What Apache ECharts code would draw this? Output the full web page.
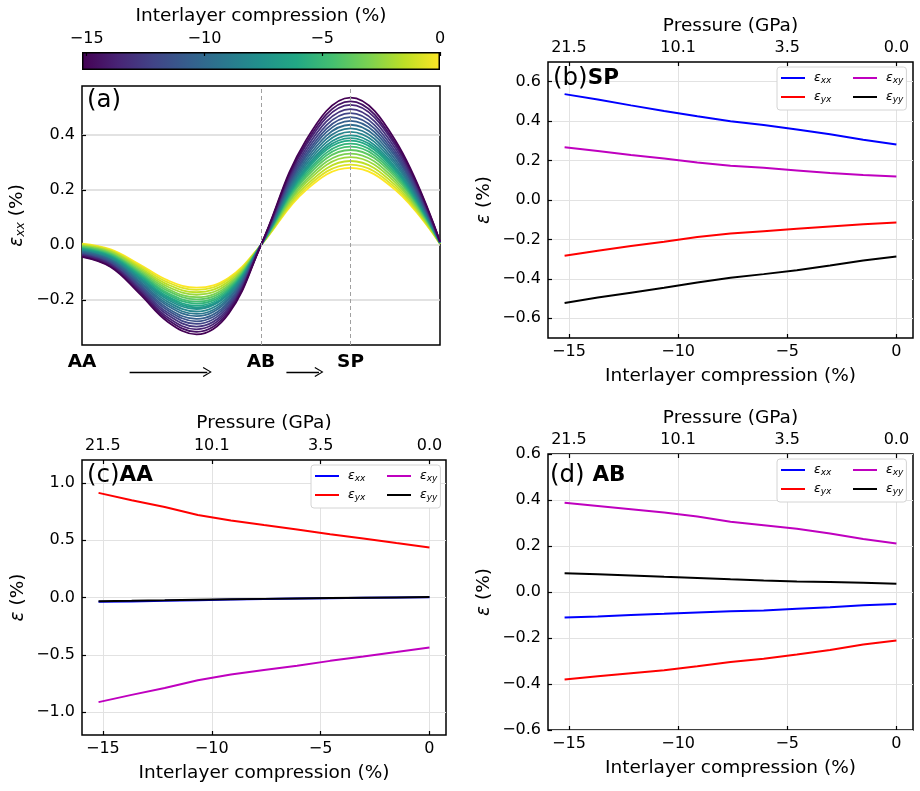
<!DOCTYPE html>
<html>
<head>
<meta charset="utf-8">
<title>Strain vs interlayer compression</title>
<script src="https://cdn.jsdelivr.net/npm/echarts@6.0.0/dist/echarts.min.js"></script>
<style>
  html, body { margin: 0; padding: 0; background: #fff; }
  #chart { width: 920px; height: 791px; }
</style>
</head>
<body>
<div id="chart"></div>
<script>
const FONT = 'DejaVu Sans'

// compression level of each curve in (a), most compressed first
const compression = [-15.2, -14.44, -13.68, -12.92, -12.16, -11.4, -10.64, -9.88, -9.12, -8.36, -7.6,
  -6.84, -6.08, -5.32, -4.56, -3.8, -3.04, -2.28, -1.52, -0.76, 0]

// position along the AA -> AB -> SP path (0 = AA, 0.5 = AB, 0.75 = SP)
const pathPos = [0, 0.08, 0.16, 0.24, 0.32, 0.41, 0.5, 0.625, 0.75, 0.875, 1]

// εxx (%) read at each path position, one value per compression level
const exxAt000 = [-0.043, -0.041, -0.038, -0.036, -0.034, -0.031, -0.029, -0.026, -0.024, -0.022, -0.019, -0.017, -0.014, -0.012, -0.010, -0.007, -0.005, -0.002, 0.000, 0.003, 0.005]
const exxAt008 = [-0.080, -0.077, -0.073, -0.070, -0.067, -0.063, -0.060, -0.056, -0.054, -0.051, -0.047, -0.044, -0.041, -0.038, -0.035, -0.032, -0.029, -0.025, -0.022, -0.019, -0.016]
const exxAt016 = [-0.176, -0.170, -0.164, -0.159, -0.153, -0.147, -0.142, -0.136, -0.131, -0.125, -0.120, -0.116, -0.111, -0.106, -0.102, -0.097, -0.092, -0.086, -0.081, -0.075, -0.070]
const exxAt024 = [-0.280, -0.272, -0.264, -0.255, -0.247, -0.238, -0.231, -0.222, -0.215, -0.207, -0.199, -0.193, -0.188, -0.181, -0.175, -0.167, -0.160, -0.152, -0.144, -0.136, -0.129]
const exxAt032 = [-0.325, -0.316, -0.307, -0.297, -0.287, -0.278, -0.269, -0.259, -0.251, -0.242, -0.233, -0.227, -0.221, -0.213, -0.206, -0.198, -0.190, -0.181, -0.172, -0.163, -0.155]
const exxAt041 = [-0.249, -0.242, -0.235, -0.228, -0.220, -0.213, -0.206, -0.198, -0.192, -0.185, -0.178, -0.174, -0.169, -0.163, -0.158, -0.152, -0.146, -0.139, -0.132, -0.125, -0.119]
const exxAt050 = [0, 0, 0, 0, 0, 0, 0, 0, 0, 0, 0, 0, 0, 0, 0, 0, 0, 0, 0, 0, 0]
const exxAt0625 = [0.380, 0.370, 0.361, 0.350, 0.339, 0.329, 0.320, 0.310, 0.300, 0.291, 0.282, 0.275, 0.269, 0.261, 0.253, 0.245, 0.235, 0.226, 0.216, 0.207, 0.199]
const exxAt075 = [0.537, 0.523, 0.510, 0.495, 0.480, 0.466, 0.452, 0.438, 0.425, 0.412, 0.399, 0.389, 0.380, 0.369, 0.358, 0.346, 0.333, 0.320, 0.306, 0.293, 0.281]
const exxAt0875 = [0.382, 0.372, 0.363, 0.352, 0.341, 0.331, 0.322, 0.312, 0.302, 0.293, 0.284, 0.277, 0.271, 0.263, 0.255, 0.247, 0.237, 0.228, 0.218, 0.209, 0.201]
const exxAt100 = [0.012, 0.012, 0.011, 0.011, 0.011, 0.010, 0.010, 0.010, 0.009, 0.009, 0.008, 0.008, 0.008, 0.007, 0.007, 0.007, 0.006, 0.006, 0.005, 0.005, 0.004]
const pathProfiles = [exxAt000, exxAt008, exxAt016, exxAt024, exxAt032, exxAt041, exxAt050, exxAt0625, exxAt075, exxAt0875, exxAt100]

const landmarkPos = [0, 0.5, 0.75]
const landmarkNames = ['AA', 'AB', 'SP']
// arrows drawn under (a), start and end on the path axis
const arrowSpans = [[0.133, 0.35], [0.571, 0.662]]

// panels (b)-(d): compression where the strain was read
const sampleComp = [-15.2, -13.68, -12.16, -10.64, -9.12, -7.6, -6.08, -4.56, -3.04, -1.52, 0]
const compTicks = [-15, -10, -5, 0]
const pressureTicks = [-15, -10, -5, 0]
const pressureLabels = ['21.5', '10.1', '3.5', '0.0']

// (b) SP
const spExx = [0.537, 0.510, 0.480, 0.452, 0.425, 0.399, 0.380, 0.358, 0.333, 0.306, 0.281]
const spEyx = [-0.283, -0.257, -0.233, -0.212, -0.188, -0.170, -0.158, -0.146, -0.134, -0.123, -0.114]
const spExy = [0.268, 0.248, 0.228, 0.210, 0.190, 0.174, 0.163, 0.150, 0.137, 0.127, 0.119]
const spEyy = [-0.522, -0.495, -0.470, -0.445, -0.418, -0.394, -0.376, -0.356, -0.332, -0.307, -0.286]
// (c) AA
const aaExx = [-0.038, -0.034, -0.029, -0.023, -0.018, -0.013, -0.009, -0.006, -0.003, 0.000, 0.003]
const aaEyx = [0.913, 0.848, 0.790, 0.720, 0.672, 0.632, 0.594, 0.552, 0.515, 0.475, 0.436]
const aaExy = [-0.913, -0.850, -0.790, -0.722, -0.672, -0.633, -0.595, -0.553, -0.515, -0.476, -0.436]
const aaEyy = [-0.032, -0.029, -0.025, -0.020, -0.016, -0.012, -0.008, -0.005, -0.002, 0.001, 0.004]
// (d) AB
const abExx = [-0.111, -0.106, -0.100, -0.095, -0.089, -0.084, -0.080, -0.073, -0.066, -0.058, -0.052]
const abEyx = [-0.380, -0.366, -0.353, -0.340, -0.323, -0.304, -0.290, -0.272, -0.252, -0.228, -0.211]
const abExy = [0.388, 0.374, 0.360, 0.346, 0.328, 0.305, 0.290, 0.275, 0.254, 0.230, 0.211]
const abEyy = [0.082, 0.077, 0.072, 0.066, 0.061, 0.055, 0.050, 0.046, 0.043, 0.040, 0.036]

const componentNames = ['exx', 'eyx', 'exy', 'eyy']
const componentColors = ['#0000ff', '#ff0000', '#bf00bf', '#000000']

const viridis = ['#440154', '#482475', '#414487', '#355f8d', '#2a788e', '#21918c',
  '#22a884', '#44bf70', '#7ad151', '#bddf26', '#fde725']

// helpers
const hexToRgb = h => [1, 3, 5].map(i => parseInt(h.slice(i, i + 2), 16))
const viridisAt = t => {
  const s = Math.min(Math.max(t, 0), 1) * (viridis.length - 1)
  const i = Math.min(Math.floor(s), viridis.length - 2)
  const f = s - i
  const a = hexToRgb(viridis[i])
  const b = hexToRgb(viridis[i + 1])
  return 'rgb(' + a.map((v, k) => Math.round(v + (b[k] - v) * f)).join(',') + ')'
}
const minus = s => s.replace('-', '\u2212')
const fmt1 = v => minus(v.toFixed(1))
const fmt0 = v => minus(String(Math.round(v)))

const tickStyle = { show: true, inside: true, length: 4, lineStyle: { color: '#000', width: 1.2 } }
const labelStyle = { color: '#000', fontFamily: FONT, fontSize: 16 }
const nameStyle = { color: '#000', fontFamily: FONT, fontSize: 18.5 }
const epsRich = {
  e: { fontFamily: FONT, fontSize: 18.5, fontStyle: 'italic', color: '#000' },
  s: { fontFamily: FONT, fontSize: 12.5, fontStyle: 'italic', color: '#000', padding: [7, 0, 0, 0] }
}
const frame = { show: true, borderColor: '#000', borderWidth: 1.5, backgroundColor: 'transparent', outerBoundsMode: 'none' }

// x axes of (b)-(d)
const compAxis = (gridIndex, nameGap) => ({
  type: 'value', gridIndex, min: -15.96, max: 0.76,
  name: 'Interlayer compression (%)', nameLocation: 'middle', nameGap, nameTextStyle: nameStyle,
  axisLine: { show: false, onZero: false },
  axisTick: { ...tickStyle, customValues: compTicks },
  axisLabel: { ...labelStyle, margin: 6, customValues: compTicks, formatter: fmt0 },
  splitLine: { show: true, lineStyle: { color: '#e2e2e2', width: 1 } }
})
const pressureAxis = (gridIndex, nameGap) => ({
  type: 'value', gridIndex, position: 'top', min: -15.96, max: 0.76,
  name: 'Pressure (GPa)', nameLocation: 'middle', nameGap, nameTextStyle: nameStyle,
  axisLine: { show: false, onZero: false },
  axisTick: { ...tickStyle, customValues: pressureTicks },
  axisLabel: { ...labelStyle, margin: 6, customValues: pressureTicks,
    formatter: v => pressureLabels[pressureTicks.indexOf(v)] },
  splitLine: { show: false }
})
const strainAxis = (gridIndex, min, max, ticks) => ({
  type: 'value', gridIndex, min, max,
  name: '{e|ε} (%)', nameLocation: 'middle', nameGap: 54,
  nameTextStyle: { ...nameStyle, rich: epsRich },
  axisLine: { show: false, onZero: false },
  axisTick: { ...tickStyle, customValues: ticks },
  axisLabel: { ...labelStyle, margin: 7, customValues: ticks, formatter: fmt1 },
  splitLine: { show: true, lineStyle: { color: '#e2e2e2', width: 1 } }
})

const legendRich = {
  e: { fontFamily: FONT, fontSize: 12.5, fontStyle: 'italic', color: '#000', padding: [0, 0, 0, 4] },
  s: { fontFamily: FONT, fontSize: 9, fontStyle: 'italic', color: '#000', padding: [5, 0, 0, 0] }
}
const legendPair = (left, top) => {
  const common = {
    orient: 'vertical', icon: 'rect', itemWidth: 24, itemHeight: 2, itemGap: 5.5,
    selectedMode: false, formatter: n => '{e|ε}{s|' + n.slice(1) + '}',
    textStyle: { lineHeight: 12, rich: legendRich }
  }
  return [
    { ...common, data: ['exx', 'eyx'], left, top, padding: [4.5, 75, 6, 4],
      backgroundColor: '#fff', borderColor: '#d4d4d4', borderWidth: 1, borderRadius: 3 },
    { ...common, data: ['exy', 'eyy'], left: left + 76, top: top + 4.5, padding: 0, z: 6 }
  ]
}

const panelTitle = (text, left, top) => ({
  text, left, top, padding: 0,
  textStyle: {
    fontFamily: FONT, fontSize: 24.5, fontWeight: 'normal', color: '#000',
    rich: {
      n: { fontFamily: FONT, fontSize: 24.5, color: '#000' },
      b: { fontFamily: FONT, fontSize: 21.5, fontWeight: 'bold', color: '#000' }
    }
  }
})

// series
const series = []

// colorbar
series.push({
  type: 'bar', xAxisIndex: 0, yAxisIndex: 0, data: [compression[0]], barWidth: '100%', silent: true,
  itemStyle: {
    color: new echarts.graphic.LinearGradient(0, 0, 1, 0,
      viridis.map((c, i) => ({ offset: i / (viridis.length - 1), color: c }))),
    borderColor: '#000', borderWidth: 1.5
  }
})

// (a) one curve per compression level, relaxed first so the compressed ones sit on top
for (let i = compression.length - 1; i >= 0; i--) {
  series.push({
    type: 'line', xAxisIndex: 1, yAxisIndex: 1, silent: true, symbol: 'none', smooth: 0.4,
    data: pathPos.map((x, k) => [x, pathProfiles[k][i]]),
    lineStyle: { width: 1.8, color: viridisAt((compression[i] - compression[0]) / (0 - compression[0])) }
  })
}
// dashed guides at AB and SP
series.push({
  type: 'line', xAxisIndex: 1, yAxisIndex: 1, data: [], silent: true,
  markLine: {
    silent: true, symbol: 'none', label: { show: false },
    lineStyle: { type: [4, 3], color: '#a0a0a0', width: 1 },
    data: landmarkPos.slice(1).map(x => ({ xAxis: x }))
  }
})
// arrows AA -> AB -> SP
series.push({
  type: 'line', xAxisIndex: 2, yAxisIndex: 2, data: [], silent: true,
  markLine: {
    silent: true, symbol: ['none', 'path://M0,10 L5,0 L10,10 L9,10.8 L5,2.4 L1,10.8 Z'],
    symbolSize: [10, 9], label: { show: false },
    lineStyle: { type: 'solid', color: '#000', width: 1.3 },
    data: arrowSpans.map(s => [{ coord: [s[0], 0] }, { coord: [s[1], 0] }])
  }
})

// (b)-(d)
const panels = [
  { x: 3, y: 3, values: [spExx, spEyx, spExy, spEyy] },
  { x: 5, y: 4, values: [aaExx, aaEyx, aaExy, aaEyy] },
  { x: 7, y: 5, values: [abExx, abEyx, abExy, abEyy] }
]
panels.forEach(p => {
  p.values.forEach((vals, k) => {
    series.push({
      type: 'line', name: componentNames[k], xAxisIndex: p.x, yAxisIndex: p.y,
      silent: true, symbol: 'none',
      data: sampleComp.map((c, i) => [c, vals[i]]),
      lineStyle: { width: 2, color: componentColors[k] },
      itemStyle: { color: componentColors[k] }
    })
  })
})

const option = {
  animation: false,
  backgroundColor: '#fff',
  textStyle: { fontFamily: FONT },
  title: [
    panelTitle('(a)', 87, 88),
    panelTitle('{n|(b)}{b|SP}', 553, 66),
    panelTitle('{n|(c)}{b|AA}', 87, 463),
    panelTitle('{n|(d)} {b|AB}', 550, 463)
  ],
  legend: [...legendPair(777, 67), ...legendPair(311, 465), ...legendPair(777, 459)],
  grid: [
    { left: 82, top: 52, width: 358, height: 18, outerBoundsMode: 'none' },
    { left: 82, top: 86, width: 358, height: 259, ...frame },
    { left: 82, top: 362, width: 358, height: 20, outerBoundsMode: 'none' },
    { left: 548, top: 62, width: 365, height: 276, ...frame },
    { left: 82, top: 460, width: 364, height: 275, ...frame },
    { left: 548, top: 454, width: 365, height: 276, ...frame }
  ],
  xAxis: [
    {
      type: 'value', gridIndex: 0, position: 'top', min: compression[0], max: 0, z: 5,
      name: 'Interlayer compression (%)', nameLocation: 'middle', nameGap: 26, nameTextStyle: nameStyle,
      axisLine: { show: false, onZero: false },
      axisTick: { ...tickStyle, customValues: compTicks },
      axisLabel: { ...labelStyle, margin: 5, customValues: compTicks, formatter: fmt0 },
      splitLine: { show: false }
    },
    {
      type: 'value', gridIndex: 1, min: 0, max: 1,
      axisLine: { show: false, onZero: false }, axisTick: { show: false }, splitLine: { show: false },
      axisLabel: { color: '#000', fontFamily: FONT, fontSize: 18.5, fontWeight: 'bold', margin: 8,
        customValues: landmarkPos, formatter: v => landmarkNames[landmarkPos.indexOf(v)] }
    },
    { type: 'value', gridIndex: 2, min: 0, max: 1, show: false },
    compAxis(3, 29), pressureAxis(3, 26.5),
    compAxis(4, 29), pressureAxis(4, 27),
    compAxis(5, 28.5), pressureAxis(5, 26.5)
  ],
  yAxis: [
    { type: 'category', gridIndex: 0, data: [''], show: false },
    {
      type: 'value', gridIndex: 1, min: -0.364, max: 0.579,
      name: '{e|ε}{s|xx} (%)', nameLocation: 'middle', nameGap: 55,
      nameTextStyle: { ...nameStyle, rich: epsRich },
      axisLine: { show: false, onZero: false },
      axisTick: { ...tickStyle, customValues: [-0.2, 0, 0.2, 0.4] },
      axisLabel: { ...labelStyle, margin: 7, customValues: [-0.2, 0, 0.2, 0.4], formatter: fmt1 },
      splitLine: { show: true, lineStyle: { color: '#d9d9d9', width: 1.5 } }
    },
    { type: 'value', gridIndex: 2, min: -1, max: 1, show: false },
    strainAxis(3, -0.7, 0.7, [-0.6, -0.4, -0.2, 0, 0.2, 0.4, 0.6]),
    strainAxis(4, -1.2, 1.2, [-1, -0.5, 0, 0.5, 1]),
    strainAxis(5, -0.6, 0.6, [-0.6, -0.4, -0.2, 0, 0.2, 0.4, 0.6])
  ],
  series
}

const chart = echarts.init(document.getElementById('chart'))
chart.setOption(option)
window.addEventListener('resize', () => chart.resize())
</script>
</body>
</html>
